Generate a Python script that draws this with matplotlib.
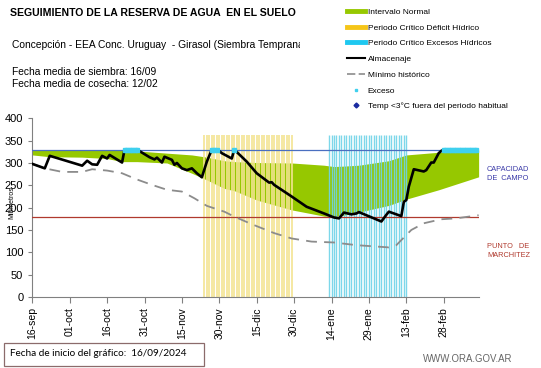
import numpy as np
import matplotlib
matplotlib.use('Agg')
import matplotlib.pyplot as plt
from matplotlib.lines import Line2D
from matplotlib.patches import Rectangle
from matplotlib.transforms import Bbox, TransformedBbox

plt.rcParams['font.family'] = ['Liberation Sans', 'DejaVu Sans']

# Datos (dias desde 16-sep)
tick_labels = ['16-sep', '01-oct', '16-oct', '31-oct', '15-nov', '30-nov',
               '15-dic', '30-dic', '14-ene', '29-ene', '13-feb', '28-feb']

alm_dia = [0, 5, 7, 20, 22, 24, 26, 28, 30, 31, 36, 37, 42, 47, 49, 50, 52, 53,
           56, 57, 58, 60, 62, 64, 66, 68, 70, 72, 74, 75, 76, 80, 81, 86, 90,
           95, 96, 97, 104, 110, 117, 121, 123, 125, 128, 130, 131, 140, 142,
           143, 148, 149, 150, 151, 153, 157, 158, 160, 161, 163, 164, 165, 178]
alm_val = [298, 288, 316, 294, 305, 297, 296, 316, 310, 318, 301, 330, 330, 313,
           308, 312, 301, 314, 307, 296, 300, 288, 284, 288, 277, 268, 303, 330,
           330, 327, 322, 310, 330, 303, 277, 256, 257, 251, 225, 202, 187, 178,
           176, 189, 185, 187, 190, 169, 184, 191, 181, 213, 217, 247, 286, 281,
           284, 301, 301, 322, 327, 330, 330]

min_dia = [0, 5, 12, 20, 24, 30, 36, 42, 48, 54, 60, 65, 70, 77, 81, 88, 97,
           104, 112, 121, 130, 143, 146, 152, 157, 164, 170, 179]
min_val = [298, 288, 280, 280, 286, 283, 277, 263, 251, 240, 236, 221, 204,
           191, 180, 163, 143, 131, 124, 122, 116, 111, 116, 150, 165, 174, 176,
           183]

int_dia = [0, 7, 20, 30, 36, 42, 54, 64, 70, 77, 81, 90, 104, 117, 121, 125,
           131, 143, 150, 163, 179]
int_sup = [330, 330, 329, 329, 328, 327, 322, 318, 313, 305, 303, 301, 300, 295,
           292, 293, 295, 305, 318, 324, 329]
int_inf = [318, 314, 313, 310, 303, 303, 300, 277, 262, 243, 238, 217, 195, 181,
           180, 183, 190, 205, 219, 240, 269]

exceso_dia = [37, 38, 39, 40, 41, 42, 72, 73, 74, 81,
              165, 166, 167, 168, 169, 170, 171, 172, 173, 174, 175, 176, 177, 178]
exceso_val = [330] * len(exceso_dia)

deficit_periodo = (69, 104)
excesos_periodo = (119, 150)
capacidad_campo = 330
punto_marchitez = 180

fig = plt.figure(figsize=(5.41, 3.68), dpi=100)
ax = fig.add_axes([0.0597, 0.193, 0.825, 0.4855])

ax.fill_between(int_dia, int_inf, int_sup, color='#96c800', lw=0, zorder=1)

d = np.arange(deficit_periodo[0], deficit_periodo[1] + 1)
ax.vlines(d, 0, 362, color='#f3e492', lw=1.4, alpha=0.85, zorder=2)
e = np.arange(excesos_periodo[0], excesos_periodo[1] + 1)
ax.vlines(e, 0, 362, color='#6fd3e8', lw=1.0, alpha=0.9, zorder=2)

ax.axhline(capacidad_campo, color='#4a6fc0', lw=0.9, zorder=3)
ax.axhline(punto_marchitez, color='#b03a2e', lw=0.9, zorder=3)

ax.plot(min_dia, min_val, color='#8c8c8c', lw=1.3, dashes=(6, 4), zorder=4)
ax.plot(alm_dia, alm_val, color='black', lw=1.9, zorder=5)
ax.plot(exceso_dia, exceso_val, ls='none', marker='s', ms=2.6, color='#3fd0ee',
        mec='#3fd0ee', zorder=6)

ax.set_xlim(0, 179)
ax.set_ylim(0, 400)
ax.set_yticks(np.arange(0, 401, 50))
ax.set_xticks(np.arange(0, 15 * len(tick_labels), 15))
ax.set_xticklabels(tick_labels, rotation=90, fontsize=7.5)
ax.tick_params(axis='y', labelsize=8, length=3, color='#808080')
ax.tick_params(axis='x', length=4, color='#808080')
for s in ['top', 'right']:
    ax.spines[s].set_visible(False)
for s in ['left', 'bottom']:
    ax.spines[s].set_color('#808080')
fig.text(12 / 541, 1 - 203 / 368, 'Milímetros', fontsize=5, rotation=90,
         ha='center', va='center')

# textos
fig.text(10 / 541, 1 - 13 / 368, 'SEGUIMIENTO DE LA RESERVA DE AGUA  EN EL SUELO',
         fontsize=7.6, fontweight='bold', va='center')
t = fig.text(12 / 541, 1 - 45 / 368,
             'Concepción - EEA Conc. Uruguay  - Girasol (Siembra Temprana)',
             fontsize=7.4, va='center')
t.set_clip_box(TransformedBbox(Bbox([[0, 0], [300 / 541, 1]]), fig.transFigure))
t.set_clip_on(True)
fig.text(12 / 541, 1 - 72 / 368, 'Fecha media de siembra: 16/09', fontsize=7.4,
         va='center')
fig.text(12 / 541, 1 - 84 / 368, 'Fecha media de cosecha: 12/02', fontsize=7.4,
         va='center')

fig.text(487 / 541, 1 - 174 / 368, 'CAPACIDAD\nDE  CAMPO', fontsize=5.3,
         color='#3a3aa8', va='center', linespacing=1.3)
fig.text(487 / 541, 1 - 251 / 368, 'PUNTO   DE\nMARCHITEZ', fontsize=5.3,
         color='#b03a2e', va='center', linespacing=1.3)

fig.patches.append(Rectangle((4 / 541, 1 - 366 / 368), 200 / 541, 23 / 368,
                             transform=fig.transFigure, fc='white',
                             ec='#8b6b6b', lw=0.9))
fig.text(10 / 541, 1 - 354 / 368, 'Fecha de inicio del gráfico:  16/09/2024',
         fontsize=7.2, va='center', family=['Lato', 'DejaVu Sans'])
fig.text(423 / 541, 1 - 359 / 368, 'WWW.ORA.GOV.AR', fontsize=6.9,
         color='#666666', va='center')

handles = [
    Line2D([], [], color='#96c800', lw=3.5),
    Line2D([], [], color='#f5c518', lw=3.5),
    Line2D([], [], color='#1ec8f0', lw=3.5),
    Line2D([], [], color='black', lw=1.5),
    Line2D([], [], color='#8c8c8c', lw=1.2, dashes=(5, 2)),
    Line2D([], [], ls='none', marker='s', ms=2, color='#3fd0ee'),
    Line2D([], [], ls='none', marker='D', ms=2.5, color='#1a2aa0'),
]
labels = ['Intervalo Normal', 'Periodo Crítico Déficit Hídrico',
          'Periodo Crítico Excesos Hídricos', 'Almacenaje', 'Mínimo histórico',
          'Exceso', 'Temp <3°C fuera del periodo habitual']
fig.legend(handles, labels, loc='upper left',
           bbox_to_anchor=(347 / 541, 1 - 8 / 368), frameon=False, fontsize=6,
           handlelength=2.2, handletextpad=0.3, labelspacing=0.95,
           borderaxespad=0, borderpad=0)

fig.savefig('out.png', dpi=100)
